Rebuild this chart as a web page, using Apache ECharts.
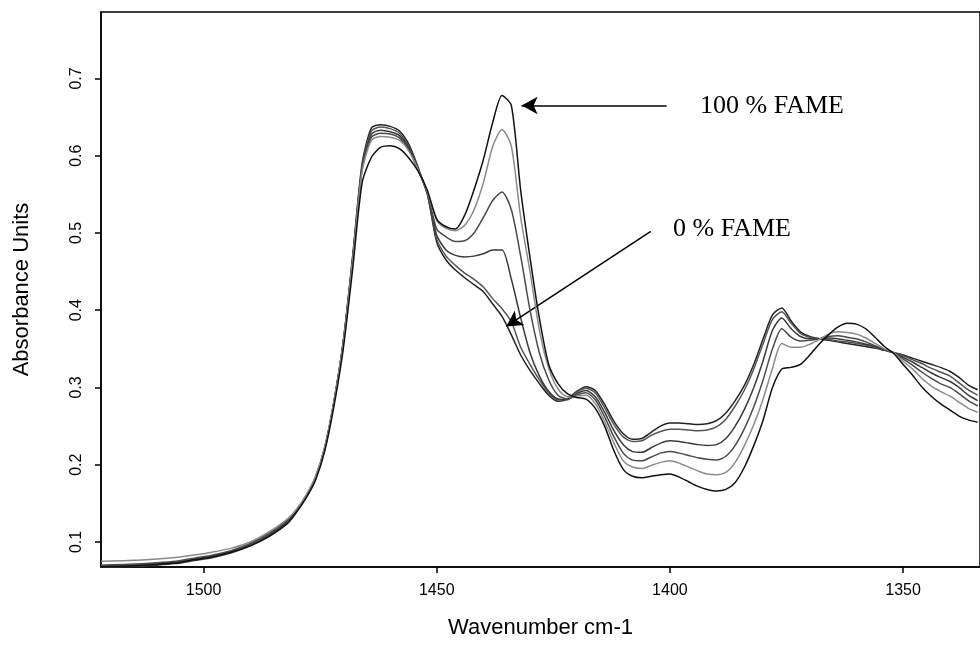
<!DOCTYPE html>
<html>
<head>
<meta charset="utf-8">
<script src="https://cdn.jsdelivr.net/npm/echarts@6/dist/echarts.min.js"></script>
<style>
  html, body { margin: 0; padding: 0; background: #fff; }
  #main { width: 980px; height: 650px; }
</style>
</head>
<body>
<div id="main"></div>
<script>
// wavenumbers, cm-1
const wavenumbers = [1522,1516,1510,1506,1502,1498,1494,1490,1486,1482,
  1480,1478,1476,1474,1472,1470,1468,1466,1464,1462,1460,1458,1456,
  1454,1452,1450,1448,1446,1444,1442,1440,1438,1436,1434,1432,1430,1428,1426,
  1424,1422,1420,1418,1416,1414,1412,1410,1408,1406,1404,1402,1400,1398,1396,1394,1392,1390,
  1388,1386,1384,1382,1380,1378,1376,1374,1372,1370,1368,1366,1364,1362,1360,1358,1356,1354,
  1352,1350,1348,1346,1344,1342,1340,1338,1336,1334];

// absorbance for each FAME content
const fame0 = [0.068,0.069,0.071,0.073,0.077,0.081,0.087,0.096,0.109,0.126,
  0.141,0.159,0.183,0.222,0.283,0.362,0.472,0.590,0.636,0.640,0.638,0.632,0.615,
  0.585,0.550,0.488,0.465,0.452,0.442,0.433,0.424,0.408,0.392,0.368,0.342,0.322,0.305,0.290,
  0.282,0.285,0.295,0.301,0.296,0.278,0.256,0.240,0.233,0.234,0.242,0.250,0.254,0.254,0.253,0.252,0.253,0.257,
  0.267,0.283,0.303,0.330,0.363,0.394,0.403,0.386,0.372,0.366,0.363,0.361,0.359,0.357,0.355,0.353,0.351,0.348,
  0.345,0.342,0.338,0.334,0.330,0.326,0.321,0.313,0.303,0.297];
const fame20 = [0.069,0.070,0.072,0.074,0.078,0.082,0.088,0.097,0.110,0.127,
  0.141,0.159,0.183,0.222,0.283,0.361,0.470,0.587,0.632,0.637,0.635,0.629,0.612,
  0.583,0.550,0.492,0.470,0.458,0.448,0.440,0.430,0.415,0.402,0.385,0.352,0.330,0.310,0.293,
  0.284,0.285,0.294,0.299,0.293,0.274,0.252,0.236,0.230,0.231,0.238,0.243,0.246,0.246,0.245,0.244,0.245,0.249,
  0.259,0.276,0.297,0.324,0.357,0.388,0.398,0.383,0.370,0.365,0.363,0.362,0.360,0.359,0.357,0.355,0.352,0.349,
  0.345,0.341,0.336,0.331,0.325,0.320,0.315,0.306,0.297,0.290];
const fame40 = [0.067,0.068,0.070,0.072,0.076,0.080,0.086,0.095,0.108,0.125,
  0.140,0.158,0.182,0.221,0.282,0.360,0.468,0.584,0.628,0.633,0.631,0.626,0.610,
  0.582,0.551,0.497,0.478,0.471,0.469,0.470,0.473,0.478,0.478,0.440,0.390,0.345,0.315,0.295,
  0.285,0.284,0.292,0.296,0.288,0.268,0.244,0.226,0.217,0.216,0.222,0.228,0.231,0.230,0.228,0.226,0.225,0.226,
  0.234,0.250,0.272,0.300,0.335,0.374,0.390,0.376,0.366,0.363,0.363,0.364,0.363,0.361,0.359,0.356,0.353,0.349,
  0.345,0.339,0.333,0.326,0.319,0.313,0.308,0.300,0.290,0.283];
const fame60 = [0.070,0.071,0.073,0.075,0.079,0.083,0.089,0.098,0.111,0.128,
  0.142,0.160,0.184,0.223,0.283,0.360,0.467,0.582,0.624,0.629,0.628,0.623,0.608,
  0.582,0.552,0.505,0.495,0.489,0.490,0.500,0.520,0.542,0.553,0.530,0.470,0.400,0.345,0.310,
  0.290,0.285,0.290,0.293,0.284,0.262,0.236,0.215,0.206,0.205,0.210,0.215,0.217,0.215,0.212,0.209,0.207,0.206,
  0.211,0.225,0.247,0.275,0.310,0.350,0.376,0.365,0.360,0.361,0.363,0.366,0.367,0.365,0.363,0.359,0.354,0.349,
  0.345,0.337,0.329,0.320,0.312,0.305,0.300,0.292,0.283,0.276];
const fame80 = [0.075,0.076,0.078,0.080,0.083,0.087,0.092,0.100,0.113,0.130,
  0.143,0.161,0.185,0.224,0.284,0.360,0.466,0.580,0.620,0.625,0.624,0.620,0.606,
  0.582,0.553,0.516,0.506,0.503,0.510,0.530,0.565,0.612,0.634,0.612,0.520,0.450,0.375,0.325,
  0.298,0.288,0.289,0.290,0.279,0.256,0.228,0.205,0.197,0.195,0.199,0.203,0.205,0.202,0.197,0.192,0.188,0.187,
  0.190,0.203,0.225,0.252,0.285,0.325,0.357,0.352,0.352,0.356,0.362,0.369,0.372,0.371,0.369,0.364,0.357,0.350,
  0.345,0.334,0.324,0.312,0.302,0.295,0.289,0.281,0.273,0.268];
const fame100 = [0.068,0.069,0.071,0.073,0.077,0.081,0.087,0.095,0.107,0.124,
  0.139,0.157,0.180,0.218,0.277,0.352,0.455,0.565,0.598,0.611,0.613,0.609,0.597,
  0.580,0.555,0.518,0.508,0.505,0.523,0.556,0.595,0.643,0.678,0.665,0.555,0.468,0.390,0.330,
  0.305,0.292,0.287,0.285,0.273,0.250,0.218,0.194,0.185,0.183,0.185,0.187,0.188,0.184,0.178,0.172,0.168,0.166,
  0.168,0.177,0.197,0.225,0.258,0.300,0.324,0.326,0.330,0.342,0.356,0.368,0.378,0.383,0.382,0.376,0.365,0.353,
  0.344,0.330,0.316,0.301,0.289,0.279,0.271,0.263,0.258,0.255];

const seriesNames = ['0 %', '20 %', '40 %', '60 %', '80 %', '100 %'];
const seriesValues = [fame0, fame20, fame40, fame60, fame80, fame100];
const seriesColors = ['#222222', '#555555', '#3a3a3a', '#4a4a4a', '#8a8a8a', '#111111'];

const xTicks = [1500, 1450, 1400, 1350];
const yTicks = [0.1, 0.2, 0.3, 0.4, 0.5, 0.6, 0.7];

const chart = echarts.init(document.getElementById('main'), null, { renderer: 'canvas' });

const series = seriesValues.map((vals, i) => ({
  name: seriesNames[i],
  type: 'line',
  data: vals.map((v, j) => [wavenumbers[j], v]),
  showSymbol: false,
  smooth: 0.25,
  lineStyle: { color: seriesColors[i], width: 1.5 },
  itemStyle: { color: seriesColors[i] },
  z: 2 + i,
  silent: true
}));

// arrows pointing at the 100 % and 0 % curves
series[5].markLine = {
  silent: true,
  symbol: ['none', 'arrow'],
  symbolSize: [13, 16],
  label: { show: false },
  lineStyle: { color: '#000', width: 1.5, type: 'solid' },
  data: [
    [{ coord: [1400.7, 0.665] }, { coord: [1431.8, 0.665] }],
    [{ coord: [1404.1, 0.502] }, { coord: [1435.1, 0.379] }]
  ]
};

chart.setOption({
  animation: false,
  backgroundColor: '#fff',
  grid: {
    left: 101, right: -3, top: 12, bottom: 83,
    show: true, borderColor: '#000', borderWidth: 1.5
  },
  xAxis: {
    type: 'value',
    inverse: true,
    min: 1333.5,
    max: 1522,
    name: 'Wavenumber cm-1',
    nameLocation: 'middle',
    nameGap: 50,
    nameTextStyle: { fontFamily: 'Liberation Sans', fontSize: 22, color: '#000' },
    axisLine: { lineStyle: { color: '#000', width: 1.5 } },
    axisTick: { show: true, customValues: xTicks, length: 6, lineStyle: { color: '#000', width: 1.5 } },
    axisLabel: {
      customValues: xTicks, margin: 16,
      fontFamily: 'Liberation Sans', fontSize: 16, color: '#000',
      formatter: v => String(v)
    },
    splitLine: { show: false }
  },
  yAxis: {
    type: 'value',
    min: 0.0676,
    max: 0.786,
    name: 'Absorbance Units',
    nameLocation: 'middle',
    nameGap: 68,
    nameTextStyle: { fontFamily: 'Liberation Sans', fontSize: 22, color: '#000' },
    axisLine: { lineStyle: { color: '#000', width: 1.5 } },
    axisTick: { show: true, customValues: yTicks, length: 6, lineStyle: { color: '#000', width: 1.5 } },
    axisLabel: {
      customValues: yTicks, rotate: 90, margin: 16,
      fontFamily: 'Liberation Sans', fontSize: 16, color: '#000',
      formatter: v => v.toFixed(1)
    },
    splitLine: { show: false }
  },
  graphic: [
    { type: 'text', x: 700, y: 106, style: { text: '100 % FAME', font: '26px "Liberation Serif"', fill: '#000', verticalAlign: 'middle' } },
    { type: 'text', x: 673, y: 229, style: { text: '0 % FAME', font: '26px "Liberation Serif"', fill: '#000', verticalAlign: 'middle' } }
  ],
  series: series
});
</script>
</body>
</html>
